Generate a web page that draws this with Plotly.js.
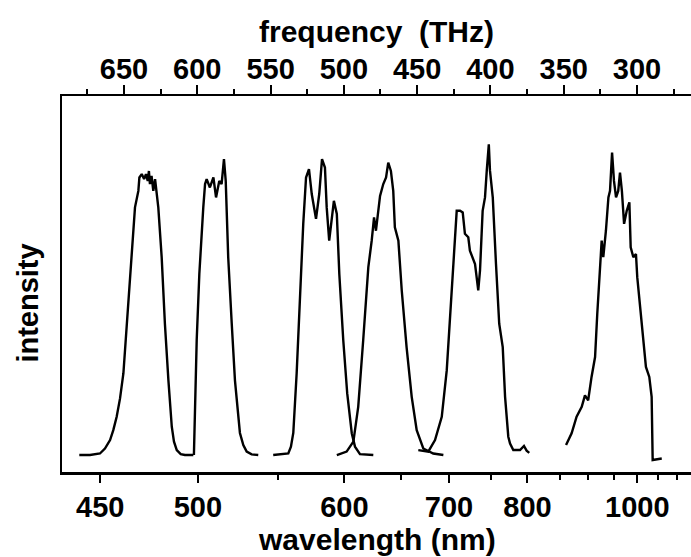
<!DOCTYPE html>
<html>
<head>
<meta charset="utf-8">
<script src="https://cdn.plot.ly/plotly-3.0.1.min.js"></script>
<style>html,body{margin:0;padding:0;background:#fff;}#chart{width:691px;height:557px;}</style>
</head>
<body>
<div id="chart"></div>
<script>
// Frequencies in THz, intensity in arbitrary units (baseline 0, max peak ~1)
const freq1 = [680.5, 673.2, 666.4, 663.0, 659.5, 657.3, 655.0, 652.7, 650.4, 647.1, 644.8, 642.5, 640.2, 639.5, 637.9, 636.3, 635.0, 633.8, 633.0, 632.3, 631.2, 630.0, 628.8, 627.6, 626.6, 624.3, 622.1, 619.7, 617.4, 615.9, 614.0, 611.3, 608.4, 602.7];
const int1  = [0, 0, 0.005, 0.021, 0.048, 0.080, 0.123, 0.182, 0.263, 0.475, 0.636, 0.796, 0.849, 0.892, 0.903, 0.887, 0.903, 0.881, 0.913, 0.871, 0.897, 0.849, 0.887, 0.828, 0.796, 0.636, 0.423, 0.240, 0.091, 0.043, 0.016, 0.003, 0, 0];

const freq2 = [602.3, 601.6, 600.4, 598.6, 597.0, 595.9, 594.7, 593.6, 591.4, 589.0, 587.2, 585.0, 583.4, 581.8, 580.6, 578.9, 576.5, 574.3, 570.9, 568.6, 566.3, 562.9, 558.4];
const int2  = [0, 0.155, 0.369, 0.582, 0.732, 0.796, 0.871, 0.887, 0.860, 0.892, 0.828, 0.881, 0.871, 0.951, 0.881, 0.636, 0.423, 0.240, 0.071, 0.032, 0.011, 0.002, 0];

const freq3 = [548.2, 537.9, 536.1, 534.5, 532.2, 529.9, 527.7, 525.8, 523.8, 521.9, 519.0, 516.8, 514.9, 512.9, 511.7, 510.0, 508.3, 506.8, 504.8, 503.1, 500.4, 497.7, 494.6, 492.4, 489.0, 479.9];
const int3  = [0, 0.005, 0.027, 0.071, 0.263, 0.529, 0.743, 0.892, 0.919, 0.839, 0.759, 0.839, 0.951, 0.924, 0.796, 0.689, 0.764, 0.817, 0.775, 0.582, 0.369, 0.198, 0.070, 0.027, 0.003, 0];

const freq4 = [504.8, 498.1, 493.5, 491.9, 490.2, 486.8, 483.3, 481.0, 479.4, 478.1, 475.3, 473.1, 471.2, 469.7, 467.9, 466.3, 465.2, 462.8, 460.5, 457.2, 453.7, 450.3, 445.8, 439.0, 432.1];
const int4  = [0, 0.011, 0.043, 0.090, 0.155, 0.369, 0.604, 0.689, 0.764, 0.721, 0.833, 0.871, 0.892, 0.940, 0.913, 0.849, 0.732, 0.689, 0.529, 0.347, 0.187, 0.080, 0.021, 0.005, 0];

const freq5 = [449.2, 442.4, 437.8, 433.2, 429.8, 427.6, 425.4, 423.0, 420.7, 418.9, 417.4, 415.1, 414.0, 410.5, 408.3, 407.1, 405.3, 403.7, 402.5, 401.1, 400.3, 398.4, 396.2, 394.0, 391.6, 390.0, 387.8, 386.6, 384.4, 379.8, 377.1, 375.3, 373.5];
const int5  = [0.016, 0.011, 0.048, 0.123, 0.272, 0.443, 0.582, 0.785, 0.785, 0.780, 0.711, 0.700, 0.657, 0.614, 0.529, 0.593, 0.785, 0.828, 0.914, 0.999, 0.914, 0.828, 0.614, 0.422, 0.347, 0.187, 0.059, 0.037, 0.016, 0.016, 0.029, 0.014, 0.007];

const freq6 = [348.4, 344.6, 341.2, 337.7, 335.5, 333.3, 331.0, 328.6, 327.1, 325.2, 324.1, 323.0, 321.2, 319.5, 318.4, 317.0, 315.7, 314.3, 312.8, 311.6, 310.3, 308.8, 307.0, 305.2, 304.3, 302.5, 300.7, 299.8, 298.4, 296.1, 293.9, 291.6, 290.0, 289.3, 283.1];
const int6  = [0.032, 0.070, 0.123, 0.155, 0.192, 0.176, 0.251, 0.315, 0.454, 0.593, 0.689, 0.636, 0.721, 0.828, 0.849, 0.972, 0.881, 0.828, 0.849, 0.908, 0.849, 0.743, 0.785, 0.812, 0.668, 0.636, 0.646, 0.571, 0.497, 0.390, 0.283, 0.251, 0.187, -0.016, -0.011];

// Axis tick labels
const wavelengthMajor = [450, 500, 600, 700, 800, 1000];
const wavelengthMinor = [550, 650, 750, 850, 900, 950, 1050, 1100];
const freqMajor = [650, 600, 550, 500, 450, 400, 350, 300];
const freqMinor = [675, 625, 575, 525, 475, 425, 375, 325, 275];

const C_NM_THZ = 299792.458; // c in nm*THz
const toFreq = w => C_NM_THZ / w;

const series = [[freq1, int1], [freq2, int2], [freq3, int3], [freq4, int4], [freq5, int5], [freq6, int6]];
const traces = series.map(([f, v]) => ({
  x: f, y: v, type: 'scatter', mode: 'lines',
  line: {color: '#000', width: 2.4}, hoverinfo: 'skip', showlegend: false
}));
// invisible trace to activate the top axis
traces.push({x: [freqMajor[0]], y: [0], xaxis: 'x2', yaxis: 'y', mode: 'markers',
  marker: {opacity: 0}, showlegend: false, hoverinfo: 'skip'});

const fontFam = 'Liberation Sans, Arial, Helvetica, sans-serif';
const xr = [692.3, 263.15];

const layout = {
  width: 691, height: 557,
  margin: {l: 62, r: 0, t: 96, b: 85},
  paper_bgcolor: '#fff', plot_bgcolor: '#fff',
  font: {family: fontFam, color: '#000'},
  showlegend: false,
  xaxis: {
    range: xr, showgrid: false, zeroline: false,
    showline: true, linecolor: '#000', linewidth: 2.5, mirror: false,
    tickmode: 'array', tickvals: wavelengthMajor.map(toFreq), ticktext: wavelengthMajor.map(String),
    ticks: 'outside', ticklen: 8, tickwidth: 2, tickcolor: '#000',
    tickfont: {family: fontFam, size: 29, weight: 'bold', color: '#000'},
    minor: {tickmode: 'array', tickvals: wavelengthMinor.map(toFreq), ticks: 'outside', ticklen: 5, tickwidth: 2, tickcolor: '#000', showgrid: false},
    fixedrange: true
  },
  xaxis2: {
    overlaying: 'x', side: 'top', anchor: 'y',
    range: xr, showgrid: false, zeroline: false,
    showline: true, linecolor: '#000', linewidth: 2.5,
    tickmode: 'array', tickvals: freqMajor, ticktext: freqMajor.map(String),
    ticks: 'outside', ticklen: 9, tickwidth: 2, tickcolor: '#000',
    ticklabelstandoff: -6,
    tickfont: {family: fontFam, size: 29, weight: 'bold', color: '#000'},
    minor: {tickmode: 'array', tickvals: freqMinor, ticks: 'outside', ticklen: 5, tickwidth: 2, tickcolor: '#000', showgrid: false},
    fixedrange: true
  },
  yaxis: {
    range: [-0.0545, 1.154], showgrid: false, zeroline: false,
    showline: true, linecolor: '#000', linewidth: 2.5, mirror: false,
    showticklabels: false, ticks: '', fixedrange: true
  },
  annotations: [
    {text: 'wavelength (nm)', xref: 'paper', yref: 'paper', x: 0.5, y: -0.18, xanchor: 'center', yanchor: 'middle',
     showarrow: false, font: {family: fontFam, size: 30, weight: 'bold', color: '#000'}},
    {text: 'frequency  (THz)', xref: 'paper', yref: 'paper', x: 0.5, y: 1.172, xanchor: 'center', yanchor: 'middle',
     showarrow: false, font: {family: fontFam, size: 30, weight: 'bold', color: '#000'}},
    {text: 'intensity', xref: 'paper', yref: 'paper', x: -0.054, y: 0.448, xanchor: 'center', yanchor: 'middle', textangle: -90,
     showarrow: false, font: {family: fontFam, size: 29, weight: 'bold', color: '#000'}}
  ]
};

Plotly.newPlot('chart', traces, layout, {displayModeBar: false, staticPlot: true});
</script>
</body>
</html>
